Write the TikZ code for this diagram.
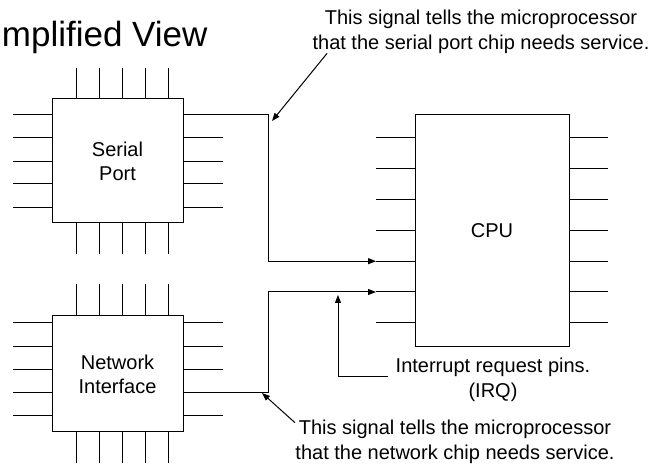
\documentclass[tikz,border=0pt]{standalone}
\usepackage{fontspec}
\setmainfont{Liberation Sans}
\usetikzlibrary{arrows.meta,positioning}
\tikzset{chip/.style={draw,rectangle,align=center,inner sep=0,font=\fontsize{20}{24}\selectfont},
    note/.style={align=center,inner sep=3pt,font=\fontsize{20}{25}\selectfont},
    signal/.style={-{Triangle[length=8pt,width=6pt]}}
}

\begin{document}
\begin{tikzpicture}[x=1pt,y=-1pt,line width=1pt]
\useasboundingbox (0,0) rectangle (657,465);
\clip (0,0) rectangle (657,465);

% title, cut off at the left edge
\node (title) [anchor=base east,inner sep=0,font=\fontsize{35}{42}\selectfont] at (208,47) {Simplified View};

% serial port chip
\node (serial) [chip,minimum width=131pt,minimum height=124pt] at (117.5,161) {Serial\\Port};
\foreach \y [count=\i] in {115,138,162,184,208}
{
    \draw (13,\y) -- (52,\y);
    \draw (183,\y) -- (223,\y);
    \coordinate (serR\i) at (183,\y);
}
\foreach \x in {76,99,122,145,168}
{
    \draw (\x,68) -- (\x,99);
    \draw (\x,223) -- (\x,254);
}

% network chip
\node (network) [chip,minimum width=131pt,minimum height=116pt] at (117.5,374) {Network\\Interface};
\foreach \y [count=\i] in {323,347,370,393,416}
{
    \draw (13,\y) -- (52,\y);
    \draw (183,\y) -- (223,\y);
    \coordinate (netR\i) at (183,\y);
}
\foreach \x in {76,99,122,145,168}
{
    \draw (\x,284) -- (\x,316);
    \draw (\x,432) -- (\x,463);
}

% cpu
\node (cpu) [chip,minimum width=154pt,minimum height=232pt] at (492,231) {CPU};
\foreach \i in {0,...,6}
{
    \pgfmathsetmacro\pinY{138+30.8*\i}
    \draw (376,\pinY) -- (415,\pinY);
    \draw (569,\pinY) -- (608,\pinY);
    \coordinate (cpuL\i) at (376,\pinY);
}

% interrupt lines
\draw [signal] (serR1) -- ++(85,0) |- (cpuL4);
\draw [signal] (netR4) -- ++(85,0) |- (cpuL5);

% notes
\node (sernote) [note] at (481,32) {This signal tells the microprocessor\\that the serial port chip needs service.};
\coordinate (sertip) at (272,121);
\draw [signal] ([xshift=18pt,yshift=4pt]sernote.south west) -- (sertip);

\node (irqnote) [note] at (493,380) {Interrupt request pins.\\(IRQ)};
\coordinate (irqtip) at (338,295);
\draw [signal] ([xshift=-4pt,yshift=3pt]irqnote.west) -| (irqtip);

\node (netnote) [note] at (455,442) {This signal tells the microprocessor\\that the network chip needs service.};
\coordinate (nettip) at (262,393);
\draw [signal] ([xshift=3pt,yshift=-6pt]netnote.north west) -- (nettip);

\end{tikzpicture}
\end{document}
